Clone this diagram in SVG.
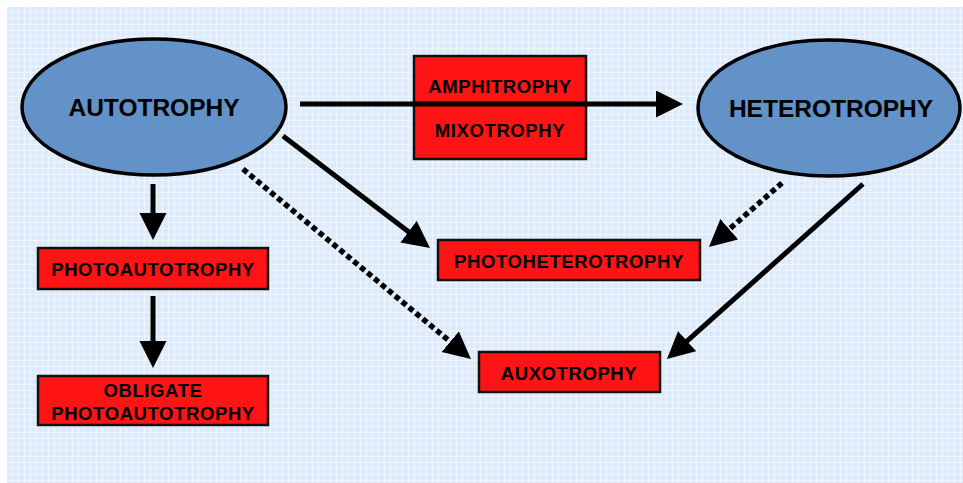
<svg xmlns="http://www.w3.org/2000/svg" width="963" height="483" viewBox="0 0 963 483">
<style>
.ell{fill:#6292c7;stroke:#000;stroke-width:3.5}
.box{fill:#fe1414;stroke:#111;stroke-width:2.5}
.big{font-family:"Liberation Sans",Arial,sans-serif;font-weight:bold;font-size:24.5px;fill:#000;text-anchor:middle}
.lbl{font-family:"Liberation Sans",Arial,sans-serif;font-weight:bold;font-size:18.5px;fill:#000;text-anchor:middle;letter-spacing:0.6px}
.c{stroke:#000;stroke-width:5;fill:none}
.d{stroke:#000;stroke-width:5.5;fill:none;stroke-dasharray:5.5 3.5}
</style>
<defs>
<pattern id="grid" width="6" height="6" patternUnits="userSpaceOnUse">
<rect width="6" height="6" fill="#dbeafc"/>
<path d="M0 0.5H6M0.5 0V6" stroke="#eef5fe" stroke-width="1"/>
</pattern>
<marker id="ah" markerUnits="userSpaceOnUse" markerWidth="28" markerHeight="28" refX="7" refY="13.5" orient="auto" viewBox="0 0 28 28">
<path d="M0 0L27 13.5L0 27Z" fill="#000"/>
</marker>
</defs>
<rect x="0" y="0" width="963" height="483" fill="#fff"/>
<rect x="7" y="7" width="956" height="476" fill="url(#grid)"/>

<g id="autotrophy">
<ellipse class="ell" cx="154" cy="107" rx="132" ry="68"/>
<text class="big" x="154" y="116">AUTOTROPHY</text>
</g>
<g id="heterotrophy">
<ellipse class="ell" cx="829" cy="108" rx="131" ry="68"/>
<text class="big" x="831" y="117">HETEROTROPHY</text>
</g>
<g id="amphi-mixo">
<rect class="box" x="414" y="56" width="172" height="103"/>
<text class="lbl" x="500" y="93">AMPHITROPHY</text>
<text class="lbl" x="500" y="137">MIXOTROPHY</text>
</g>
<g id="photoautotrophy">
<rect class="box" x="38" y="248" width="230" height="41"/>
<text class="lbl" x="153" y="276">PHOTOAUTOTROPHY</text>
</g>
<g id="obligate">
<rect class="box" x="38" y="376" width="230" height="49"/>
<text class="lbl" x="153" y="397">OBLIGATE</text>
<text class="lbl" x="153" y="420">PHOTOAUTOTROPHY</text>
</g>
<g id="photoheterotrophy">
<rect class="box" x="438" y="240" width="262" height="40"/>
<text class="lbl" x="569" y="268">PHOTOHETEROTROPHY</text>
</g>
<g id="auxotrophy">
<rect class="box" x="479" y="352" width="181" height="40"/>
<text class="lbl" x="569" y="380">AUXOTROPHY</text>
</g>

<g id="connectors">
<line class="c" x1="300" y1="104" x2="663" y2="104" marker-end="url(#ah)"/>
<line class="c" x1="153" y1="184" x2="153" y2="220" marker-end="url(#ah)"/>
<line class="c" x1="153" y1="296" x2="153" y2="348" marker-end="url(#ah)"/>
<line class="c" x1="283" y1="136" x2="414.1" y2="235.9" marker-end="url(#ah)"/>
<line class="d" x1="243" y1="169" x2="455.6" y2="346.2" marker-end="url(#ah)"/>
<line class="d" x1="782" y1="183" x2="724" y2="233.8" marker-end="url(#ah)"/>
<line class="c" x1="863" y1="184" x2="681.9" y2="345.7" marker-end="url(#ah)"/>
</g>
</svg>
